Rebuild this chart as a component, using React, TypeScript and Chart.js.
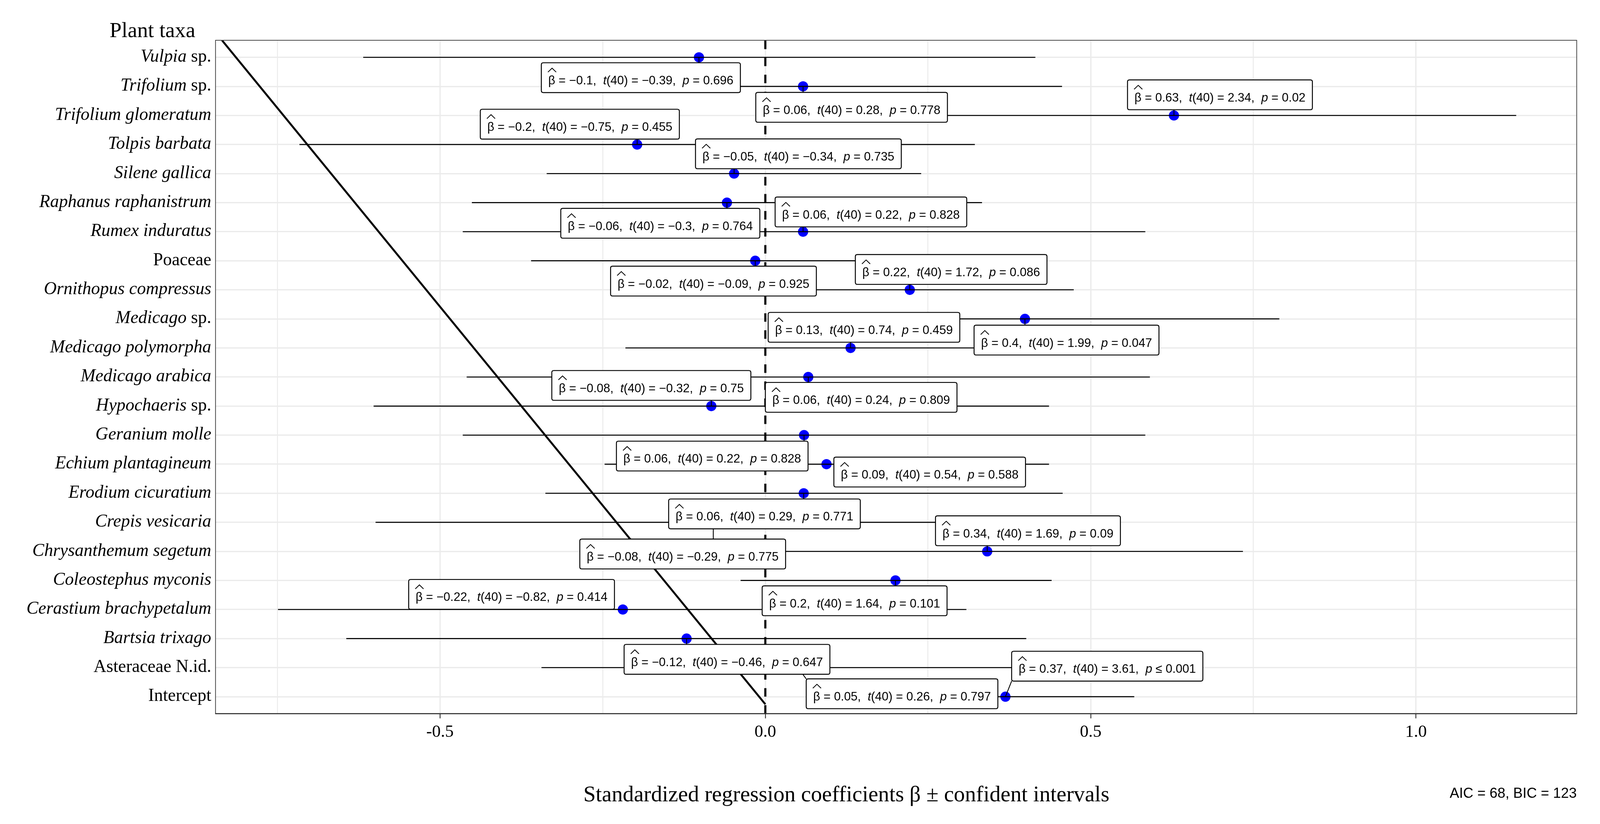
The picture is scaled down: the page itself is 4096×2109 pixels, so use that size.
import React, { useEffect, useRef } from "react";
import { Chart, registerables } from "chart.js";

Chart.register(...registerables);

// Rows from bottom (y = 1) to top (y = 23)
const taxaItalic = [
  "", "", "Bartsia trixago", "Cerastium brachypetalum", "Coleostephus myconis",
  "Chrysanthemum segetum", "Crepis vesicaria", "Erodium cicuratium", "Echium plantagineum",
  "Geranium molle", "Hypochaeris", "Medicago arabica", "Medicago polymorpha", "Medicago",
  "Ornithopus compressus", "", "Rumex induratus", "Raphanus raphanistrum", "Silene gallica",
  "Tolpis barbata", "Trifolium glomeratum", "Trifolium", "Vulpia",
];
const taxaRoman = [
  "Intercept", "Asteraceae N.id.", "", "", "",
  "", "", "", "",
  "", " sp.", "", "", " sp.",
  "", "Poaceae", "", "", "",
  "", "", " sp.", " sp.",
];

const estimates = [
  0.369, 0.05, -0.121, -0.219, 0.2,
  0.341, -0.08, 0.059, 0.094,
  0.0595, -0.083, 0.066, 0.131, 0.399,
  0.222, -0.0155, 0.058, -0.059, -0.048,
  -0.197, 0.628, 0.058, -0.102,
];
const ciLow = [
  0.171, -0.344, -0.644, -0.749, -0.038,
  -0.052, -0.599, -0.338, -0.247,
  -0.465, -0.602, -0.459, -0.215, 0.009,
  -0.03, -0.36, -0.465, -0.451, -0.336,
  -0.716, 0.102, -0.34, -0.618,
];
const ciHigh = [
  0.567, 0.444, 0.401, 0.309, 0.44,
  0.734, 0.439, 0.457, 0.436,
  0.584, 0.436, 0.591, 0.477, 0.79,
  0.474, 0.33, 0.584, 0.333, 0.2395,
  0.322, 1.154, 0.456, 0.415,
];

const betaText = [
  "0.37", "0.05", "−0.12", "−0.22", "0.2",
  "0.34", "−0.08", "0.06", "0.09",
  "0.06", "−0.08", "0.06", "0.13", "0.4",
  "0.22", "−0.02", "0.06", "−0.06", "−0.05",
  "−0.2", "0.63", "0.06", "−0.1",
];
const tText = [
  "3.61", "0.26", "−0.46", "−0.82", "1.64",
  "1.69", "−0.29", "0.29", "0.54",
  "0.22", "−0.32", "0.24", "0.74", "1.99",
  "1.72", "−0.09", "0.22", "−0.3", "−0.34",
  "−0.75", "2.34", "0.28", "−0.39",
];
const pOp = [
  "≤", "=", "=", "=", "=",
  "=", "=", "=", "=",
  "=", "=", "=", "=", "=",
  "=", "=", "=", "=", "=",
  "=", "=", "=", "=",
];
const pText = [
  "0.001", "0.797", "0.647", "0.414", "0.101",
  "0.09", "0.775", "0.771", "0.588",
  "0.828", "0.75", "0.809", "0.459", "0.047",
  "0.086", "0.925", "0.828", "0.764", "0.735",
  "0.455", "0.02", "0.778", "0.696",
];

// repelled label centres (data units)
const labelX = [
  0.5255, 0.2101, -0.0589, -0.39, 0.1372,
  0.4036, -0.127, -0.0013, 0.2526,
  -0.0816, -0.1752, 0.1473, 0.1516, 0.4629,
  0.2856, -0.0797, 0.1623, -0.1614, 0.0508,
  -0.2851, 0.6987, 0.1326, -0.1913,
];
const labelY = [
  2.05, 1.1, 2.285, 4.52, 4.3,
  6.71, 5.91, 7.29, 8.73,
  9.28, 11.71, 11.3, 13.71, 13.27,
  15.7, 15.3, 17.68, 17.29, 19.68,
  20.7, 21.71, 21.28, 22.3,
];

const diagLine = [
  { x: -0.835, y: 23.585 },
  { x: 0, y: 0.74 },
];
const zeroLine = [
  { x: 0, y: 0.415 },
  { x: 0, y: 23.585 },
];

const xGridValues = [-0.75, -0.5, -0.25, 0, 0.25, 0.5, 0.75, 1.0];
const xTickValues = [-0.5, 0, 0.5, 1.0];
const xTickLabels = ["-0.5", "0.0", "0.5", "1.0"];
const xMin = -0.845;
const xMax = 1.247;
const yMin = 0.415;
const yMax = 23.585;

const yTitle = "Plant taxa";
const xTitle = "Standardized regression coefficients β ± confident intervals";
const caption = "AIC = 68, BIC = 123";

export default function App() {
  const ref = useRef<HTMLCanvasElement | null>(null);

  useEffect(() => {
    document.body.style.margin = "0";
    const canvas = ref.current!;
    const W = window.innerWidth;
    const H = window.innerHeight;
    const f = W / 5635;
    const serif = '"Liberation Serif", "Times New Roman", serif';
    const sans = '"Liberation Sans", Arial, sans-serif';
    const isMajor = (v: number) => Math.abs(v * 2 - Math.round(v * 2)) < 1e-6;

    const errData: any[] = [];
    estimates.forEach((_, i) => {
      errData.push({ x: ciLow[i], y: i + 1 }, { x: ciHigh[i], y: i + 1 }, { x: NaN, y: NaN });
    });
    const pointData = estimates.map((v, i) => ({ x: v, y: i + 1 }));

    const rrect = (ctx: CanvasRenderingContext2D, x: number, y: number, w: number, h: number, r: number) => {
      ctx.beginPath();
      ctx.moveTo(x + r, y);
      ctx.lineTo(x + w - r, y);
      ctx.quadraticCurveTo(x + w, y, x + w, y + r);
      ctx.lineTo(x + w, y + h - r);
      ctx.quadraticCurveTo(x + w, y + h, x + w - r, y + h);
      ctx.lineTo(x + r, y + h);
      ctx.quadraticCurveTo(x, y + h, x, y + h - r);
      ctx.lineTo(x, y + r);
      ctx.quadraticCurveTo(x, y, x + r, y);
      ctx.closePath();
    };

    const annot = {
      id: "annot",
      afterDatasetsDraw(chart: any) {
        const ctx: CanvasRenderingContext2D = chart.ctx;
        const xs = chart.scales.x;
        const ys = chart.scales.y;
        const fs = 42.7 * f;
        const reg = `${fs}px ${sans}`;
        const ita = `italic ${fs}px ${sans}`;
        const padX = 24.5 * f;
        const bh = 105 * f;
        const labels = estimates.map((est, i) => {
          const pieces: any[] = [
            { t: "β", it: false },
            { t: " = " + betaText[i] + ",  ", it: false },
            { t: "t", it: true },
            { t: "(40) = " + tText[i] + ",  ", it: false },
            { t: "p", it: true },
            { t: " " + pOp[i] + " " + pText[i], it: false },
          ];
          let tw = 0;
          pieces.forEach((p) => {
            ctx.font = p.it ? ita : reg;
            p.w = ctx.measureText(p.t).width;
            tw += p.w;
          });
          const bw = tw + 2 * padX;
          const cx = xs.getPixelForValue(labelX[i]);
          const cy = ys.getPixelForValue(labelY[i]);
          return {
            pieces, tw, bw,
            left: cx - bw / 2, top: cy - bh / 2,
            px: xs.getPixelForValue(est), py: ys.getPixelForValue(i + 1),
          };
        });
        ctx.save();
        ctx.strokeStyle = "#000";
        ctx.lineWidth = 3 * f;
        labels.forEach((L) => {
          const nx = Math.min(Math.max(L.px, L.left), L.left + L.bw);
          const ny = Math.min(Math.max(L.py, L.top), L.top + bh);
          if (Math.hypot(nx - L.px, ny - L.py) > 1) {
            ctx.beginPath();
            ctx.moveTo(L.px, L.py);
            ctx.lineTo(nx, ny);
            ctx.stroke();
          }
        });
        labels.forEach((L) => {
          rrect(ctx, L.left, L.top, L.bw, bh, 7 * f);
          ctx.fillStyle = "#ffffff";
          ctx.fill();
          ctx.lineWidth = 3.3 * f;
          ctx.strokeStyle = "#000";
          ctx.stroke();
          let x = L.left + (L.bw - L.tw) / 2;
          const base = L.top + 76 * f;
          ctx.fillStyle = "#000";
          ctx.textAlign = "left";
          ctx.textBaseline = "alphabetic";
          L.pieces.forEach((p: any, k: number) => {
            ctx.font = p.it ? ita : reg;
            ctx.fillText(p.t, x, base);
            if (k === 0) {
              const hx = x + p.w / 2 + 1 * f;
              ctx.beginPath();
              ctx.moveTo(hx - 14.5 * f, L.top + 33 * f);
              ctx.lineTo(hx, L.top + 19 * f);
              ctx.lineTo(hx + 14.5 * f, L.top + 33 * f);
              ctx.lineWidth = 2.8 * f;
              ctx.stroke();
            }
            x += p.w;
          });
        });
        ctx.restore();
      },
      afterDraw(chart: any) {
        const ctx: CanvasRenderingContext2D = chart.ctx;
        const xs = chart.scales.x;
        const ys = chart.scales.y;
        const a = chart.chartArea;
        ctx.save();
        // panel border
        ctx.strokeStyle = "#333333";
        ctx.lineWidth = 2.4 * f;
        ctx.beginPath();
        ctx.moveTo(a.left, a.bottom);
        ctx.lineTo(a.left, a.top);
        ctx.lineTo(a.right, a.top);
        ctx.lineTo(a.right, a.bottom);
        ctx.stroke();
        ctx.lineWidth = 3.8 * f;
        ctx.beginPath();
        ctx.moveTo(a.left - 1.2 * f, a.bottom);
        ctx.lineTo(a.right + 1.2 * f, a.bottom);
        ctx.stroke();

        ctx.fillStyle = "#000";
        ctx.textBaseline = "alphabetic";
        // y labels
        const yfs = 62.5 * f;
        const yRight = 744 * f;
        estimates.forEach((_, i) => {
          const yy = ys.getPixelForValue(i + 1) + 15.5 * f;
          ctx.textAlign = "right";
          ctx.font = `${yfs}px ${serif}`;
          const rw = taxaRoman[i] ? ctx.measureText(taxaRoman[i]).width : 0;
          if (taxaRoman[i]) ctx.fillText(taxaRoman[i], yRight, yy);
          if (taxaItalic[i]) {
            ctx.font = `italic ${yfs}px ${serif}`;
            ctx.fillText(taxaItalic[i], yRight - rw, yy);
          }
        });
        // y title
        ctx.textAlign = "left";
        ctx.font = `${76 * f}px ${serif}`;
        ctx.fillText(yTitle, 386 * f, 131 * f);
        // x tick labels
        ctx.textAlign = "center";
        ctx.font = `${61 * f}px ${serif}`;
        xTickValues.forEach((v, i) => {
          ctx.fillText(xTickLabels[i], xs.getPixelForValue(v), 2595 * f);
        });
        // x title
        ctx.font = `${78 * f}px ${serif}`;
        ctx.fillText(xTitle, 2981 * f, 2821 * f);
        // caption
        ctx.textAlign = "right";
        ctx.font = `${50 * f}px ${sans}`;
        ctx.fillText(caption, 5553 * f, 2809 * f);
        ctx.restore();
      },
    };

    const chart = new Chart(canvas, {
      type: "scatter",
      data: {
        datasets: [
          {
            type: "line", data: errData, borderColor: "#000000", borderWidth: 3.6 * f,
            pointRadius: 0, spanGaps: false, order: 1, clip: 0,
          } as any,
          {
            type: "scatter", data: pointData, backgroundColor: "#0000FF", borderWidth: 0,
            pointRadius: 18 * f, order: 2,
          } as any,
          {
            type: "line", data: diagLine, borderColor: "#000000", borderWidth: 7 * f,
            pointRadius: 0, order: 3, clip: 0,
          } as any,
          {
            type: "line", data: zeroLine, borderColor: "#000000", borderWidth: 7.5 * f,
            borderDash: [30 * f, 30 * f], pointRadius: 0, order: 4, clip: 0,
          } as any,
        ],
      },
      options: {
        responsive: true,
        maintainAspectRatio: false,
        animation: false,
        devicePixelRatio: 1,
        events: [],
        layout: { padding: { top: 142 * f, right: W - 5553 * f, left: 0, bottom: 0 } },
        plugins: { legend: { display: false }, tooltip: { enabled: false }, title: { display: false } },
        scales: {
          x: {
            type: "linear", min: xMin, max: xMax,
            afterBuildTicks: (s: any) => { s.ticks = xGridValues.map((v) => ({ value: v })); },
            afterFit: (s: any) => { s.height = H - 2513 * f; },
            ticks: { display: false },
            border: { display: false },
            grid: {
              color: "#EBEBEB",
              lineWidth: (c: any) => (c.tick && isMajor(c.tick.value) ? 4.4 * f : 3.4 * f),
              drawTicks: true,
              tickLength: 16.5 * f,
              tickWidth: 3.2 * f,
              tickColor: (c: any) => (c.tick && isMajor(c.tick.value) ? "#333333" : "rgba(0,0,0,0)"),
            },
          },
          y: {
            type: "linear", min: yMin, max: yMax,
            afterBuildTicks: (s: any) => { s.ticks = estimates.map((_, i) => ({ value: i + 1 })); },
            afterFit: (s: any) => { s.width = 759 * f; },
            ticks: { display: false },
            border: { display: false },
            grid: { color: "#EBEBEB", lineWidth: 4.4 * f, drawTicks: false },
          },
        },
      } as any,
      plugins: [annot],
    });
    return () => chart.destroy();
  }, []);

  return (
    <div style={{ position: "fixed", left: 0, top: 0, width: "100vw", height: "100vh" }}>
      <canvas ref={ref} />
    </div>
  );
}
